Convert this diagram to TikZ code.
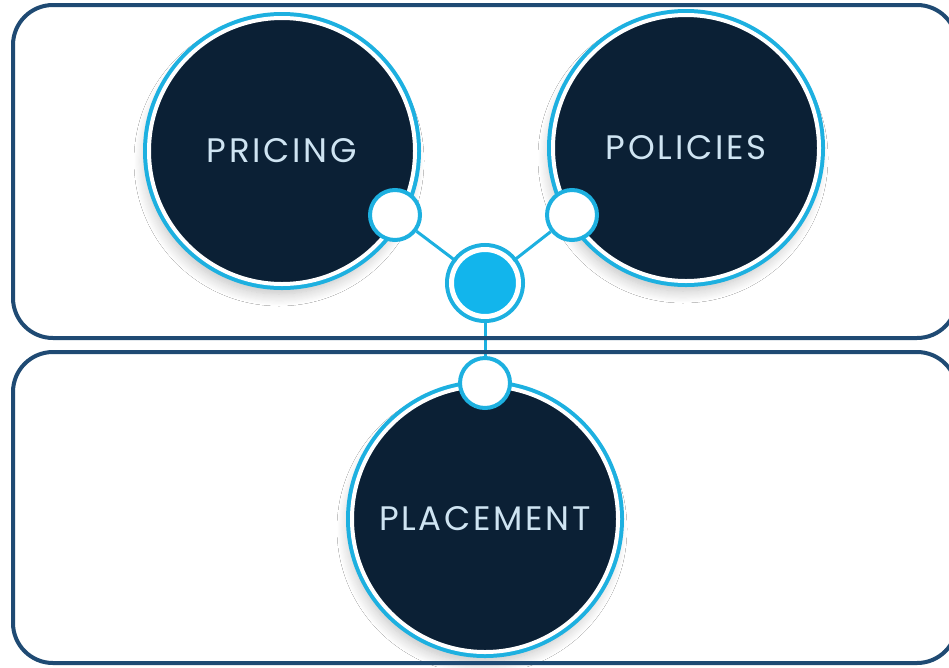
\documentclass[tikz,border=0pt]{standalone}
\usepackage{fontspec}
\newfontfamily\labelfont[LetterSpace=8]{Poppins}
\usetikzlibrary{shadows.blur}
\definecolor{navy}{HTML}{0B2035}
\definecolor{frame}{HTML}{1F4A73}
\definecolor{ring}{HTML}{1DB0E0}
\definecolor{hubfill}{HTML}{12B5EC}
\definecolor{labeltext}{HTML}{CFE4F2}

\begin{document}
\begin{tikzpicture}[x=1pt,y=-1pt,
  bigdisc/.style={circle,minimum size=266pt,inner sep=0pt,fill=navy,draw=white,line width=4pt,
    blur shadow={shadow xshift=-3pt,shadow yshift=-10pt,shadow blur radius=12pt,shadow blur steps=12,shadow opacity=25},
    preaction={draw=ring,line width=12pt},
    text=labeltext,font=\labelfont\fontsize{34}{34}\selectfont},
  joint/.style={circle,minimum size=50pt,inner sep=0pt,fill=white,draw=ring,line width=4pt},
  hubdisc/.style={circle,minimum size=67pt,inner sep=0pt,fill=hubfill,draw=white,line width=5pt,
    preaction={draw=ring,line width=13pt}},
  link/.style={draw=ring,line width=3pt},
  panel/.style={draw=frame,line width=4pt,rounded corners=40pt}]
\useasboundingbox (0,0) rectangle (949,667);
\fill[white] (0,0) rectangle (949,667);
% the three discs
\node[bigdisc] (pricing) at (282,151) {PRICING};
\node[bigdisc] (policies) at (686,148) {POLICIES};
\node[bigdisc] (placement) at (485,519) {PLACEMENT};
% joints and hub
\node[joint] (jp) at (395,215) {};
\node[joint] (jq) at (572,215) {};
\node[joint] (jm) at (485,383) {};
\node[hubdisc] (hub) at (485,283) {};
\draw[link] (jp) -- (hub);
\draw[link] (jq) -- (hub);
\draw[link] (hub) -- (jm);
% panels
\draw[panel] (13,5) rectangle (957,338);
\draw[panel] (13,352) rectangle (957,663);
\end{tikzpicture}
\end{document}
